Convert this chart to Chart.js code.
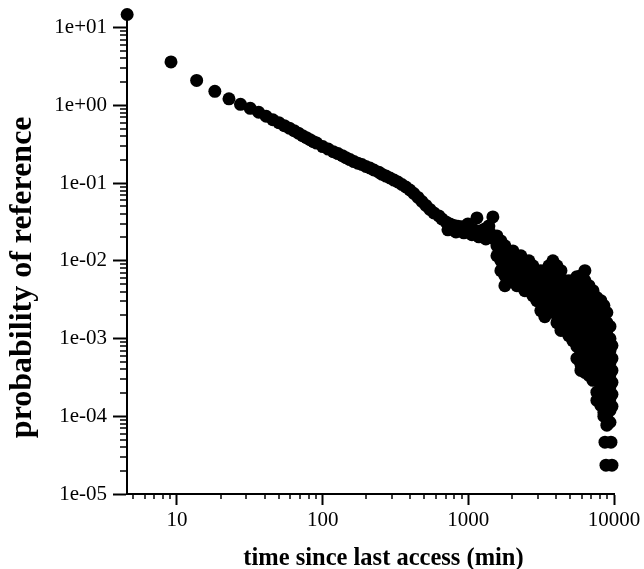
<!DOCTYPE html>
<html>
<head>
<meta charset="utf-8">
<script src="https://cdn.jsdelivr.net/npm/chart.js@4.4.1/dist/chart.umd.min.js"></script>
<style>
  html, body { margin: 0; padding: 0; background: #fff; }
  #wrap { width: 644px; height: 569px; }
</style>
</head>
<body>
<div id="wrap"><canvas id="refChart"></canvas></div>
<script>
// smooth part of the curve (time in min, probability)
const curveTime = [4.55, 9.1, 13.65, 18.2, 22.75, 27.3, 31.85, 36.4, 40.95, 45.5, 50.05, 54.6, 59.15, 63.7, 68.25, 72.8, 77.35, 81.9, 86.45, 91,
  100.1, 109.2, 118.3, 127.4, 136.5, 144.6, 154, 164, 174.4, 185.8, 198.1, 211, 224.7, 243.1, 254.9, 272.3, 290, 308.9, 328.5, 349.8,
  372.7, 397, 422.8, 451.6, 480.9, 511.7, 545, 580.5, 628, 658.4, 702.3, 748, 796.7, 847.9, 903, 724.8, 822.2, 932, 961.8, 994.2,
  1026, 1059, 1093, 1145.5, 1182, 1220, 1299, 1320, 1384, 1474, 1406, 1498];
const curveProb = [14.7, 3.61, 2.09, 1.51, 1.21, 1.03, 0.915, 0.813, 0.723, 0.652, 0.597, 0.546, 0.507, 0.471, 0.438, 0.406, 0.383, 0.361, 0.340, 0.326,
  0.294, 0.273, 0.253, 0.239, 0.225, 0.212, 0.200, 0.189, 0.180, 0.173, 0.163, 0.156, 0.147, 0.138, 0.130, 0.123, 0.116, 0.109, 0.103, 0.0957,
  0.0889, 0.0813, 0.0733, 0.0652, 0.0579, 0.0515, 0.0457, 0.0412, 0.0377, 0.0345, 0.0316, 0.0298, 0.0285, 0.0277, 0.0273, 0.0250, 0.0235, 0.0229, 0.0265, 0.0298,
  0.0257, 0.0216, 0.0250, 0.0356, 0.0203, 0.0243, 0.0257, 0.0191, 0.0281, 0.0366, 0.0229, 0.0191];

// noisy part after ~1500 min: one time per column, several probabilities each
const cloudTime = [1572, 1674, 1783, 1901, 2024, 2155, 2295, 2444, 2606, 2775, 2954, 3146, 3351, 3574, 3807, 4060,
  4324, 4605, 4899, 5218, 5565, 5927, 6312, 6732, 7170, 7631, 8127, 8522, 8934, 9380, 9680];
const cloudProb = [
  [0.0209, 0.0156, 0.0116],
  [0.0180, 0.0134, 0.0100, 0.00745],
  [0.0156, 0.0116, 0.00863, 0.00643, 0.00478],
  [0.0134, 0.0100, 0.00745, 0.00555],
  [0.0134, 0.0100, 0.00745, 0.00555],
  [0.0116, 0.00863, 0.00643, 0.00478],
  [0.0116, 0.00863, 0.00643, 0.00478],
  [0.0100, 0.00745, 0.00555, 0.00412],
  [0.0100, 0.00745, 0.00555, 0.00412],
  [0.00863, 0.00643, 0.00478, 0.00356],
  [0.00745, 0.00555, 0.00412, 0.00307],
  [0.00745, 0.00555, 0.00412, 0.00307, 0.00229],
  [0.00745, 0.00555, 0.00412, 0.00307, 0.00229, 0.00191],
  [0.00863, 0.00643, 0.00478, 0.00356, 0.00265],
  [0.0100, 0.00745, 0.00555, 0.00412, 0.00307, 0.00229],
  [0.00863, 0.00643, 0.00478, 0.00356, 0.00265, 0.00197, 0.00160],
  [0.00745, 0.00555, 0.00412, 0.00307, 0.00229, 0.00170, 0.00127],
  [0.00555, 0.00412, 0.00307, 0.00229, 0.00170, 0.00127],
  [0.00555, 0.00412, 0.00307, 0.00229, 0.00170, 0.00127, 0.00109],
  [0.00555, 0.00389, 0.00273, 0.00191, 0.00135, 0.000942],
  [0.00624, 0.00464, 0.00316, 0.00229, 0.00160, 0.00112, 0.000789, 0.000554],
  [0.00643, 0.00523, 0.00389, 0.00273, 0.00191, 0.00135, 0.000942, 0.000662, 0.000465, 0.000389],
  [0.00745, 0.00555, 0.00412, 0.00289, 0.00203, 0.00143, 0.001, 0.000702, 0.000492, 0.000367],
  [0.00478, 0.00346, 0.00243, 0.00170, 0.00120, 0.000837, 0.000587, 0.000413, 0.000336],
  [0.00412, 0.00289, 0.00203, 0.00143, 0.001, 0.000702, 0.000492, 0.000346, 0.000290],
  [0.00336, 0.00243, 0.00170, 0.00120, 0.000837, 0.000587, 0.000413, 0.000290, 0.000204, 0.000160],
  [0.00307, 0.00216, 0.00151, 0.00106, 0.000745, 0.000522, 0.000367, 0.000258, 0.000181, 0.000138],
  [0.00265, 0.00191, 0.00135, 0.000942, 0.000662, 0.000465, 0.000326, 0.000229, 0.000160, 0.000112, 0.0001],
  [0.00216, 0.00160, 0.00112, 0.000789, 0.000554, 0.000389, 0.000273, 0.000192, 0.000134, 0.0000943, 0.0000767],
  [0.00143, 0.001, 0.000702, 0.000492, 0.000346, 0.000243, 0.000170, 0.000119, 0.0000838],
  [0.000813, 0.000554, 0.000389, 0.000273, 0.000192, 0.000134]
];

// last few isolated points at the bottom
const tailTime = [8670, 9529, 8808, 9680];
const tailProb = [4.64e-5, 4.64e-5, 2.35e-5, 2.35e-5];

const xTickValues = [10, 100, 1000, 10000];
const xTickLabels = ["10", "100", "1000", "10000"];
const yTickValues = [1e-5, 1e-4, 1e-3, 1e-2, 1e-1, 1, 10];
const yTickLabels = ["1e-05", "1e-04", "1e-03", "1e-02", "1e-01", "1e+00", "1e+01"];
const xTitle = "time since last access (min)";
const yTitle = "probability of reference";

const xDecades = [1, 10, 100, 1000];
const yDecades = [1e-5, 1e-4, 1e-3, 1e-2, 1e-1, 1];

var points = [];
for (var i = 0; i < curveTime.length; i++) {
    points.push({x: curveTime[i], y: curveProb[i]});
}
for (var c = 0; c < cloudTime.length; c++) {
    cloudProb[c].forEach(p => points.push({x: cloudTime[c], y: p}));
}
for (var t = 0; t < tailTime.length; t++) {
    points.push({x: tailTime[t], y: tailProb[t]});
}

// minor ticks at 2..9 of each decade (inside axis range)
var xMinor = [];
xDecades.forEach(d => { for (var k = 2; k <= 9; k++) { if (d * k > 4.6) xMinor.push(d * k); } });
var yMinor = [];
yDecades.forEach(d => { for (var k = 2; k <= 9; k++) yMinor.push(d * k); });

const serif = '"Liberation Serif", "Times New Roman", serif';

const minorTicks = {
    id: 'minorTicks',
    afterDraw(chart) {
        const ctx = chart.ctx;
        const xs = chart.scales.x;
        const ys = chart.scales.y;
        ctx.save();
        ctx.strokeStyle = "#000";
        ctx.lineWidth = 1.5;
        ctx.beginPath();
        xMinor.forEach(v => {
            var px = Math.round(xs.getPixelForValue(v));
            ctx.moveTo(px, xs.top);
            ctx.lineTo(px, xs.top + 5);
        });
        yMinor.forEach(v => {
            var py = Math.round(ys.getPixelForValue(v));
            ctx.moveTo(ys.right, py);
            ctx.lineTo(ys.right - 7, py);
        });
        ctx.stroke();
        ctx.restore();
    }
};

// axis titles, placed a bit off-centre like in the original figure
const axisTitles = {
    id: 'axisTitles',
    afterDraw(chart) {
        const ctx = chart.ctx;
        const a = chart.chartArea;
        ctx.save();
        ctx.fillStyle = "#000";
        ctx.textAlign = "center";
        ctx.textBaseline = "alphabetic";
        ctx.font = "bold 24.5px " + serif;
        ctx.fillText(xTitle, (a.left + a.right) / 2 + 13, chart.height - 4);
        ctx.translate(31, (a.top + a.bottom) / 2 + 21);
        ctx.rotate(-Math.PI / 2);
        ctx.font = "bold 32px " + serif;
        ctx.fillText(yTitle, 0, 0);
        ctx.restore();
    }
};

var chartElement = document.getElementById('refChart').getContext('2d');
var refChart = new Chart(chartElement, {
    type: "scatter",
    data: {
        datasets: [{
            data: points,
            backgroundColor: "#000",
            borderWidth: 0,
            pointRadius: 6.5,
            pointHoverRadius: 6.5,
            clip: false
        }]
    },
    options: {
        responsive: true,
        maintainAspectRatio: false,
        animation: false,
        layout: { padding: { top: 17, right: 30, left: 0, bottom: 0 } },
        plugins: {
            legend: { display: false },
            tooltip: { enabled: false }
        },
        scales: {
            x: {
                type: 'logarithmic',
                position: 'bottom',
                min: 4.54,
                max: 10000,
                afterBuildTicks: s => { s.ticks = xTickValues.map(v => ({value: v})); },
                afterFit: s => { s.height = 75; },
                grid: { drawOnChartArea: false, tickLength: 11, tickWidth: 2, tickColor: "#000" },
                border: { display: true, color: "#000", width: 2 },
                ticks: {
                    autoSkip: false,
                    maxRotation: 0,
                    padding: 3,
                    color: "#000",
                    font: { family: serif, size: 21 },
                    callback: (v, i) => xTickLabels[i]
                }
            },
            y: {
                type: 'logarithmic',
                min: 1e-5,
                max: 13.03,
                afterBuildTicks: s => { s.ticks = yTickValues.map(v => ({value: v})); },
                afterFit: s => { s.width = 127; },
                grid: { drawOnChartArea: false, tickLength: 14, tickWidth: 2, tickColor: "#000" },
                border: { display: true, color: "#000", width: 2 },
                ticks: {
                    autoSkip: false,
                    padding: 6,
                    color: "#000",
                    font: { family: serif, size: 21 },
                    callback: (v, i) => yTickLabels[i]
                }
            }
        }
    },
    plugins: [minorTicks, axisTitles]
});
</script>
</body>
</html>
